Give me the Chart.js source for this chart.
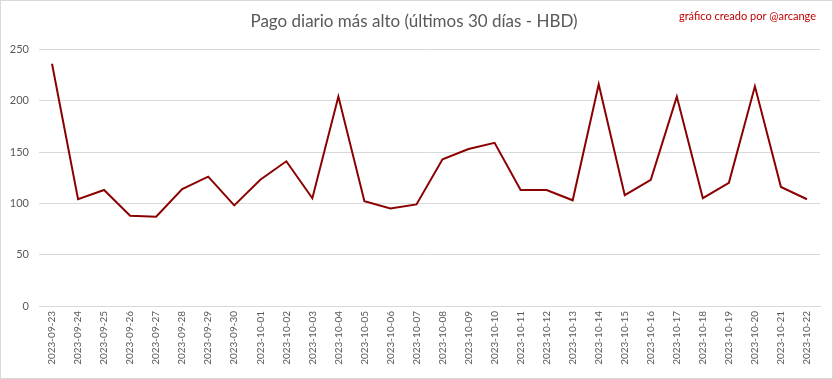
<!DOCTYPE html>
<html><head><meta charset="utf-8">
<script src="https://cdn.jsdelivr.net/npm/chart.js@4/dist/chart.umd.min.js"></script>
<style>html,body{margin:0;padding:0;background:#fff}#wrap{width:833px;height:379px;position:relative}</style>
</head><body><div id="wrap"><canvas id="c" width="833" height="379"></canvas></div>
<script>
const categories = ["2023-09-23","2023-09-24","2023-09-25","2023-09-26","2023-09-27","2023-09-28","2023-09-29","2023-09-30","2023-10-01","2023-10-02","2023-10-03","2023-10-04","2023-10-05","2023-10-06","2023-10-07","2023-10-08","2023-10-09","2023-10-10","2023-10-11","2023-10-12","2023-10-13","2023-10-14","2023-10-15","2023-10-16","2023-10-17","2023-10-18","2023-10-19","2023-10-20","2023-10-21","2023-10-22"];
const payouts = [236,104,113,88,87,114,126,98,123,141,105,204,102,95,99,143,153,159,113,113,103,216,108,123,204,105,120,214,116,104];
const yTicks = [0,50,100,150,200,250];
const titleText = "Pago diario más alto (últimos 30 días - HBD)";
const creditText = "gráfico creado por @arcange";

const extras = {
  id: 'extras',
  afterDraw(chart) {
    const ctx = chart.ctx;
    ctx.save();
    ctx.strokeStyle = '#d9d9d9';
    ctx.lineWidth = 1;
    ctx.strokeRect(0.5, 0.5, chart.width - 1, chart.height - 1);
    ctx.fillStyle = '#c00000';
    ctx.font = '11px Lato';
    ctx.textAlign = 'right';
    ctx.textBaseline = 'middle';
    ctx.fillText(creditText, 816, 16);
    ctx.restore();
  }
};

new Chart(document.getElementById('c'), {
  type: 'line',
  data: { labels: categories, datasets: [{ data: payouts, borderColor: '#8b0000', borderWidth: 2, pointRadius: 0, tension: 0, fill: false }] },
  options: {
    responsive: false, animation: false,
    layout: { padding: { left: 8, right: 13, top: 0, bottom: 6 } },
    plugins: {
      legend: { display: false }, tooltip: { enabled: false },
      title: { display: true, text: titleText, color: '#595959', font: { family: 'Lato', size: 17, weight: 'normal' }, padding: { top: 11, bottom: 18 } }
    },
    scales: {
      x: {
        offset: true,
        grid: { display: false, drawTicks: false },
        border: { display: true, color: '#d9d9d9' },
        ticks: { color: '#595959', font: { family: 'Lato', size: 10 }, maxRotation: 90, minRotation: 90, autoSkip: false, padding: 5 },
        afterFit(s) { s.height = 67; }
      },
      y: {
        min: 0, max: 250,
        afterBuildTicks(s) { s.ticks = yTicks.map(v => ({ value: v })); },
        grid: { color: '#d9d9d9', drawTicks: false },
        border: { display: false },
        ticks: { color: '#595959', font: { family: 'Lato', size: 11 }, padding: 10 },
        afterFit(s) { s.width = 31; }
      }
    }
  },
  plugins: [extras]
});
</script></body></html>
